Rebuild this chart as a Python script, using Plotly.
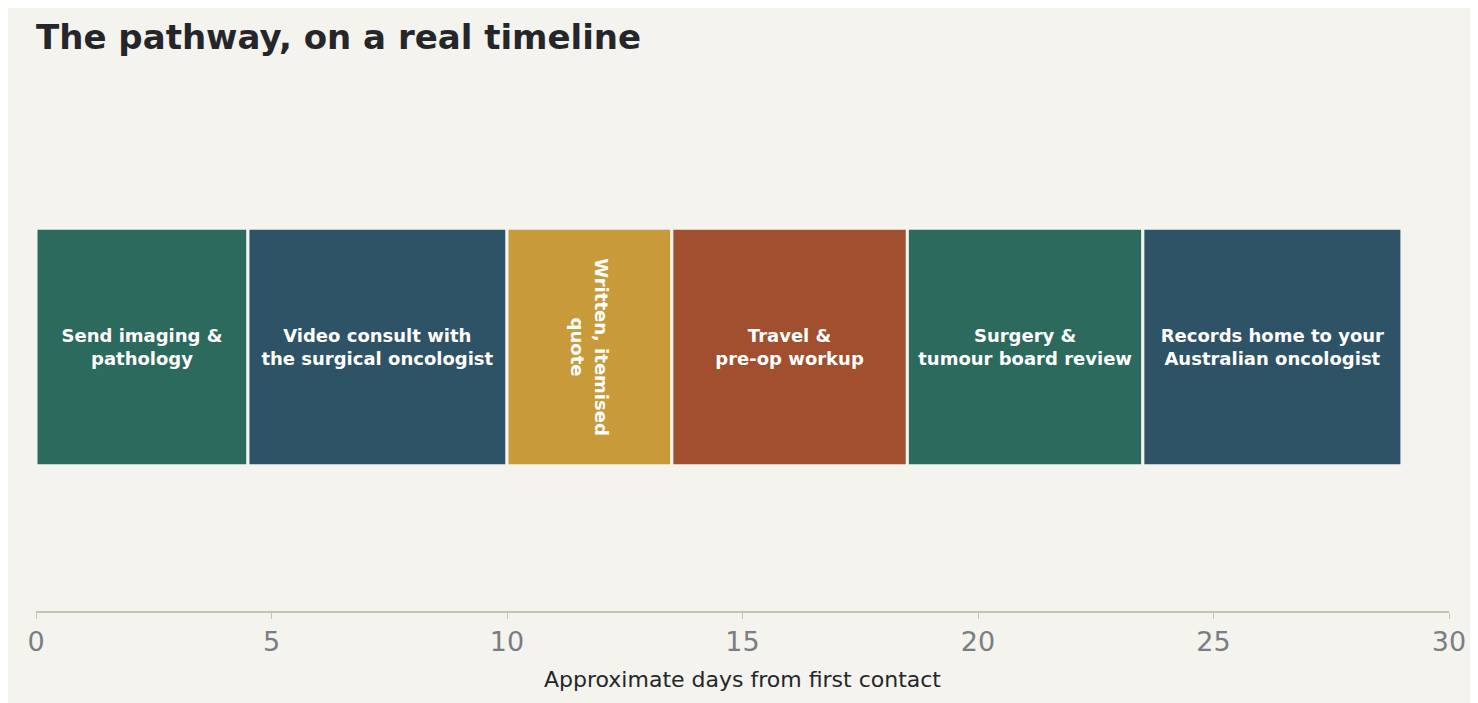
import plotly.graph_objects as go

steps = ["Send imaging &<br>pathology", "Video consult with<br>the surgical oncologist",
         "Written, itemised<br>quote", "Travel &<br>pre-op workup",
         "Surgery &<br>tumour board review", "Records home to your<br>Australian oncologist"]
days = [4.5, 5.5, 3.5, 5, 5, 5.5]
colors = ["#2C6A5D", "#2E5366", "#C89A3A", "#A14F2E", "#2C6A5D", "#2E5366"]

fig = go.Figure()
start = 0
for name, d, c in zip(steps, days, colors):
    fig.add_trace(go.Bar(
        y=["path"], x=[d], base=[start], orientation="h", width=0.45,
        marker=dict(color=c, line=dict(color="#F4F3EE", width=3)),
        text=["<b>" + name + "</b>"], textposition="inside", insidetextanchor="middle",
        textfont=dict(color="white", size=18, family="DejaVu Sans"),
        constraintext="none", cliponaxis=False, showlegend=False, hoverinfo="skip"))
    start += d

fig.update_layout(
    barmode="overlay",
    width=1478, height=703,
    paper_bgcolor="#F4F3EE", plot_bgcolor="#F4F3EE",
    margin=dict(l=28, r=37, t=75, b=100),
    title=dict(text="<b>The pathway, on a real timeline</b>", x=0.019, xanchor="left",
               y=0.975, font=dict(size=34, color="#25262A", family="DejaVu Sans")),
    uniformtext=dict(minsize=18, mode="show"),
    xaxis=dict(range=[0, 30], tickvals=[0, 5, 10, 15, 20, 25, 30], showgrid=False, zeroline=False,
               showline=True, linecolor="#C4C4B0", linewidth=2, ticks="outside", ticklen=6,
               tickcolor="#C4C4B0", tickfont=dict(size=27, color="#7A7E83", family="DejaVu Sans"),
               title=dict(text="Approximate days from first contact",
                          font=dict(size=22, color="#25262A", family="DejaVu Sans"))),
    yaxis=dict(visible=False, range=[-0.5, 0.5]),
)
fig.write_html("out.html")
